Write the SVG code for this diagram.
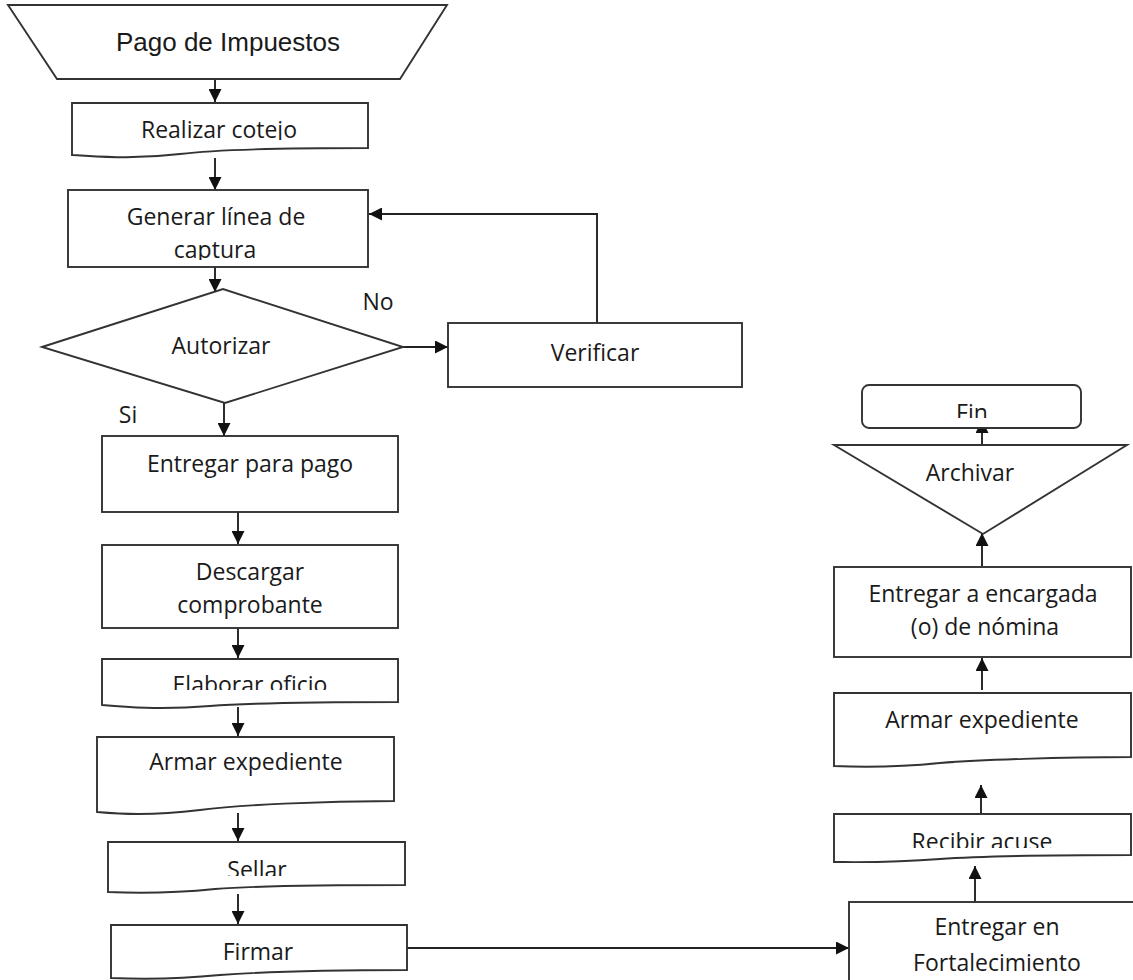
<svg xmlns="http://www.w3.org/2000/svg" width="1133" height="980" viewBox="0 0 1133 980">
<style>
.s{fill:#fff;stroke:#333;stroke-width:1.9}
.t{font-family:"Open Sans","Liberation Sans",sans-serif;font-size:23px;fill:#1a1a1a;text-anchor:middle}
.ta{font-family:"Liberation Sans",Arial,sans-serif;font-size:26px;fill:#1a1a1a;text-anchor:middle}
.c{fill:none;stroke:#222;stroke-width:1.9}
</style>
<defs>
<marker id="ah" markerUnits="userSpaceOnUse" markerWidth="13" markerHeight="13" viewBox="0 0 13 13" refX="13" refY="6.5" orient="auto">
<path d="M0,0 L13,6.5 L0,13 z" fill="#111"/>
</marker>
<clipPath id="c1"><rect x="0" y="0" width="1133" height="140"/></clipPath>
<clipPath id="c2"><rect x="0" y="0" width="1133" height="260"/></clipPath>
<clipPath id="c3"><rect x="0" y="0" width="1133" height="690"/></clipPath>
<clipPath id="c4"><rect x="0" y="0" width="1133" height="876"/></clipPath>
<clipPath id="c5"><rect x="0" y="0" width="1133" height="848"/></clipPath>
<clipPath id="c6"><rect x="0" y="0" width="1133" height="418"/></clipPath>
</defs>
<rect width="1133" height="980" fill="#fff"/>

<g id="connectors">
<line class="c" x1="215" y1="79" x2="215" y2="102" marker-end="url(#ah)"/>
<line class="c" x1="215" y1="158" x2="215" y2="190" marker-end="url(#ah)"/>
<polyline class="c" points="597,323 597,214 369,214" marker-end="url(#ah)"/>
<line class="c" x1="215" y1="267" x2="215" y2="292" marker-end="url(#ah)"/>
<line class="c" x1="403" y1="347" x2="448" y2="347" marker-end="url(#ah)"/>
<line class="c" x1="224" y1="403" x2="224" y2="436" marker-end="url(#ah)"/>
<line class="c" x1="238" y1="512" x2="238" y2="544" marker-end="url(#ah)"/>
<line class="c" x1="238" y1="628" x2="238" y2="658" marker-end="url(#ah)"/>
<line class="c" x1="238" y1="707" x2="238" y2="736" marker-end="url(#ah)"/>
<line class="c" x1="238" y1="813" x2="238" y2="841" marker-end="url(#ah)"/>
<line class="c" x1="238" y1="894" x2="238" y2="924" marker-end="url(#ah)"/>
<line class="c" x1="407" y1="948" x2="849" y2="948" marker-end="url(#ah)"/>
<line class="c" x1="975" y1="902" x2="975" y2="866" marker-end="url(#ah)"/>
<line class="c" x1="981" y1="814" x2="981" y2="785" marker-end="url(#ah)"/>
<line class="c" x1="982" y1="690" x2="982" y2="658" marker-end="url(#ah)"/>
<line class="c" x1="982" y1="566" x2="982" y2="533" marker-end="url(#ah)"/>
<line class="c" x1="982" y1="445" x2="982" y2="420" marker-end="url(#ah)"/>
<text class="t" x="378" y="310">No</text>
<text class="t" x="128" y="423">Si</text>
</g>

<g id="n-pago">
<polygon class="s" points="8,5 447,5 400,79 57,79"/>
<text class="ta" x="228" y="51">Pago de Impuestos</text>
</g>

<g id="n-realizar">
<path class="s" d="M72,103 H368 V148 C300,148 220,149 180,154 C130,160 95,156 72,155 Z"/>
<text class="t" x="219" y="138" clip-path="url(#c1)">Realizar cotejo</text>
</g>

<g id="n-generar">
<rect class="s" x="68" y="190" width="300" height="77"/>
<text class="t" x="216" y="225">Generar línea de</text>
<text class="t" x="215" y="258" clip-path="url(#c2)">captura</text>
</g>

<g id="n-autorizar">
<polygon class="s" points="42,347 223,289 403,347 225,403"/>
<text class="t" x="221" y="354">Autorizar</text>
</g>

<g id="n-verificar">
<rect class="s" x="448" y="323" width="294" height="64"/>
<text class="t" x="595" y="361">Verificar</text>
</g>

<g id="n-entregar-pago">
<rect class="s" x="102" y="436" width="296" height="76"/>
<text class="t" x="250" y="472">Entregar para pago</text>
</g>

<g id="n-descargar">
<rect class="s" x="102" y="545" width="296" height="83"/>
<text class="t" x="250" y="580">Descargar</text>
<text class="t" x="250" y="613">comprobante</text>
</g>

<g id="n-elaborar">
<path class="s" d="M102,659 H398 V702 C330,702 250,703 210,706 C160,710 125,707 102,705 Z"/>
<text class="t" x="250" y="693" clip-path="url(#c3)">Elaborar oficio</text>
</g>

<g id="n-armar1">
<path class="s" d="M97,737 H394 V801 C320,801 240,805 200,810 C150,816 120,814 97,812 Z"/>
<text class="t" x="246" y="770">Armar expediente</text>
</g>

<g id="n-sellar">
<path class="s" d="M108,842 H405 V885 C335,885 255,886 215,889 C165,894 130,893 108,892 Z"/>
<text class="t" x="257" y="878" clip-path="url(#c4)">Sellar</text>
</g>

<g id="n-firmar">
<path class="s" d="M111,925 H407 V970 C340,970 260,972 220,975 C170,980 135,979 111,978 Z"/>
<text class="t" x="258" y="960">Firmar</text>
</g>

<g id="n-fortalecimiento">
<rect class="s" x="849" y="902" width="300" height="100"/>
<text class="t" x="997" y="935">Entregar en</text>
<text class="t" x="997" y="971">Fortalecimiento</text>
</g>

<g id="n-recibir">
<path class="s" d="M834,814 H1131 V855 C1060,855 980,856 940,859 C890,863 855,862 834,862 Z"/>
<text class="t" x="982" y="850" clip-path="url(#c5)">Recibir acuse</text>
</g>

<g id="n-armar2">
<path class="s" d="M834,693 H1131 V757 C1060,757 980,760 940,763 C890,768 855,767 834,766 Z"/>
<text class="t" x="982" y="728">Armar expediente</text>
</g>

<g id="n-entregar-nomina">
<rect class="s" x="834" y="567" width="297" height="90"/>
<text class="t" x="983" y="602">Entregar a encargada</text>
<text class="t" x="985" y="635">(o) de nómina</text>
</g>

<g id="n-archivar">
<polygon class="s" points="834,445 1127,445 983,534"/>
<text class="t" x="970" y="481">Archivar</text>
</g>

<g id="n-fin">
<rect class="s" x="862" y="385" width="219" height="43" rx="7"/>
<text class="t" x="972" y="421" clip-path="url(#c6)">Fin</text>
</g>
</svg>
